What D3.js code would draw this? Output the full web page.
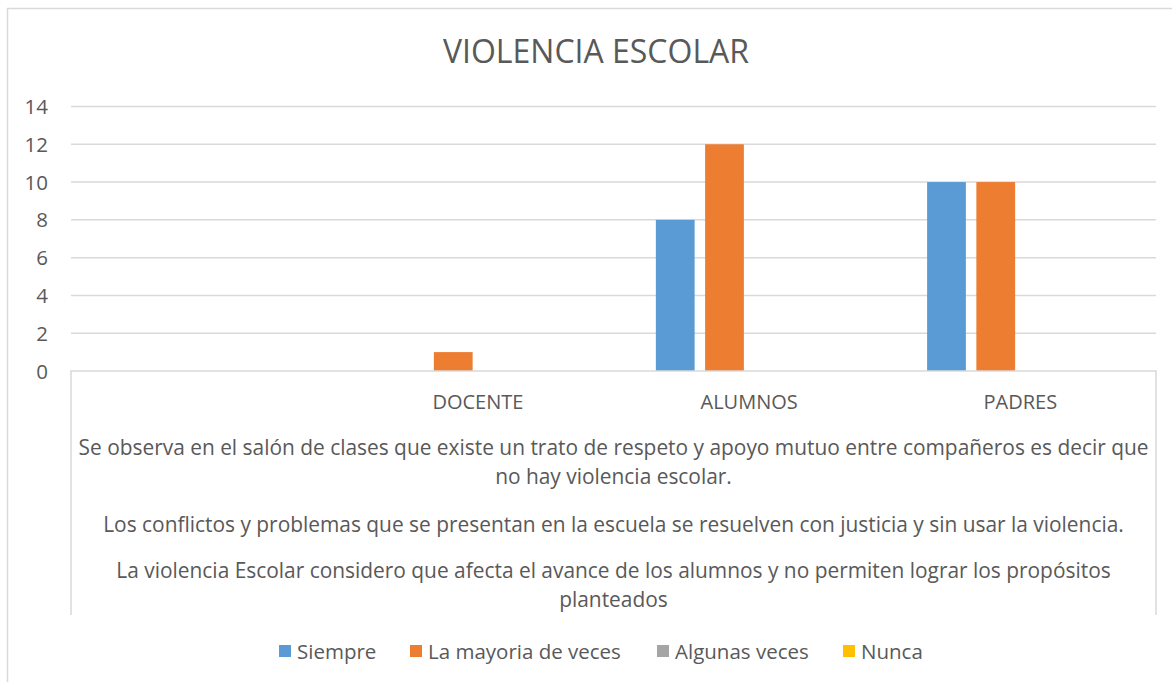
<!DOCTYPE html>
<html>
<head>
<meta charset="utf-8">
<script src="https://cdn.jsdelivr.net/npm/d3@7"></script>
<style>
  body { margin: 0; background: #fff; }
  text { font-family: "Open Sans", sans-serif; fill: #595959; }
</style>
</head>
<body>
<svg id="chart" width="1172" height="682"></svg>
<script>
// data
var categories = ["", "DOCENTE", "ALUMNOS", "PADRES"];
var seriesNames = ["Siempre", "La mayoria de veces", "Algunas veces", "Nunca"];
var siempre = [0, 0, 8, 10];
var mayoria = [0, 1, 12, 10];
var algunas = [0, 0, 0, 0];
var nunca = [0, 0, 0, 0];
var yTicks = [0, 2, 4, 6, 8, 10, 12, 14];
var statements = [
  "Se observa en el salón de clases que existe un trato de respeto y apoyo mutuo entre compañeros es decir que\nno hay violencia escolar.",
  "Los conflictos y problemas que  se presentan en la escuela se resuelven con justicia y sin usar la violencia.",
  "La violencia Escolar considero que afecta el avance de los alumnos y no permiten lograr los propósitos\nplanteados"
];

var colors = ["#5B9BD5", "#ED7D31", "#A5A5A5", "#FFC000"];
var allSeries = [siempre, mayoria, algunas, nunca];

var svg = d3.select("#chart");
var plotL = 71, plotR = 1156, plotT = 106.5, plotB = 371;
var fs = 20.5;

// outer chart border (cut off at the right and bottom)
svg.append("rect")
  .attr("x", 7.5).attr("y", 8.5)
  .attr("width", 1200).attr("height", 700)
  .attr("fill", "none").attr("stroke", "#D9D9D9").attr("stroke-width", 1.5);

svg.append("text")
  .attr("x", 596).attr("y", 63)
  .attr("text-anchor", "middle")
  .style("font-size", "32px")
  .text("VIOLENCIA ESCOLAR");

var x = d3.scaleBand().domain(d3.range(categories.length)).range([plotL, plotR]);
var xInner = d3.scaleBand().domain(d3.range(seriesNames.length))
  .range([0, x.bandwidth()]).paddingInner(0.213).paddingOuter(0.86);
var y = d3.scaleLinear().domain([0, 14]).range([plotB, plotT]);

// gridlines
svg.append("g").selectAll("line")
  .data(yTicks.filter(function(d) { return d > 0; }))
  .enter().append("line")
  .attr("x1", plotL).attr("x2", plotR)
  .attr("y1", function(d) { return y(d); })
  .attr("y2", function(d) { return y(d); })
  .attr("stroke", "#D9D9D9").attr("stroke-width", 1.5);

// y labels
svg.append("g").selectAll("text")
  .data(yTicks)
  .enter().append("text")
  .attr("x", 48)
  .attr("y", function(d) { return y(d) + 7.5; })
  .attr("text-anchor", "end")
  .style("font-size", fs + "px")
  .text(function(d) { return d; });

// bars
allSeries.forEach(function(vals, s) {
  svg.append("g").selectAll("rect")
    .data(vals)
    .enter().append("rect")
    .attr("x", function(d, i) { return x(i) + xInner(s); })
    .attr("y", function(d) { return y(d); })
    .attr("width", xInner.bandwidth())
    .attr("height", function(d) { return y(0) - y(d); })
    .attr("fill", colors[s]);
});

// category box (multi-level axis)
var boxBottom = 615;
svg.append("path")
  .attr("d", "M" + plotL + "," + boxBottom + "V" + plotB + "H" + plotR + "V" + boxBottom)
  .attr("fill", "none").attr("stroke", "#D9D9D9").attr("stroke-width", 1.5);

svg.append("g").selectAll("text")
  .data(categories)
  .enter().append("text")
  .attr("x", function(d, i) { return x(i) + x.bandwidth() / 2; })
  .attr("y", 409)
  .attr("text-anchor", "middle")
  .style("font-size", "20px")
  .text(function(d) { return d; });

var stmtY = [455, 532, 578];
var cx = (plotL + plotR) / 2;
statements.forEach(function(s, i) {
  var t = svg.append("text")
    .attr("x", cx).attr("y", stmtY[i])
    .attr("text-anchor", "middle")
    .style("font-size", "20.9px");
  s.split("\n").forEach(function(line, j) {
    t.append("tspan").attr("x", cx).attr("dy", j === 0 ? 0 : 29).text(line);
  });
});

// legend
var legendX = [279, 410, 657, 843];
var leg = svg.append("g").selectAll("g")
  .data(seriesNames)
  .enter().append("g")
  .attr("transform", function(d, i) { return "translate(" + legendX[i] + ",645)"; });
leg.append("rect").attr("width", 12).attr("height", 12)
  .attr("fill", function(d, i) { return colors[i]; });
leg.append("text").attr("x", 18).attr("y", 14)
  .style("font-size", fs + "px")
  .text(function(d) { return d; });
</script>
</body>
</html>
